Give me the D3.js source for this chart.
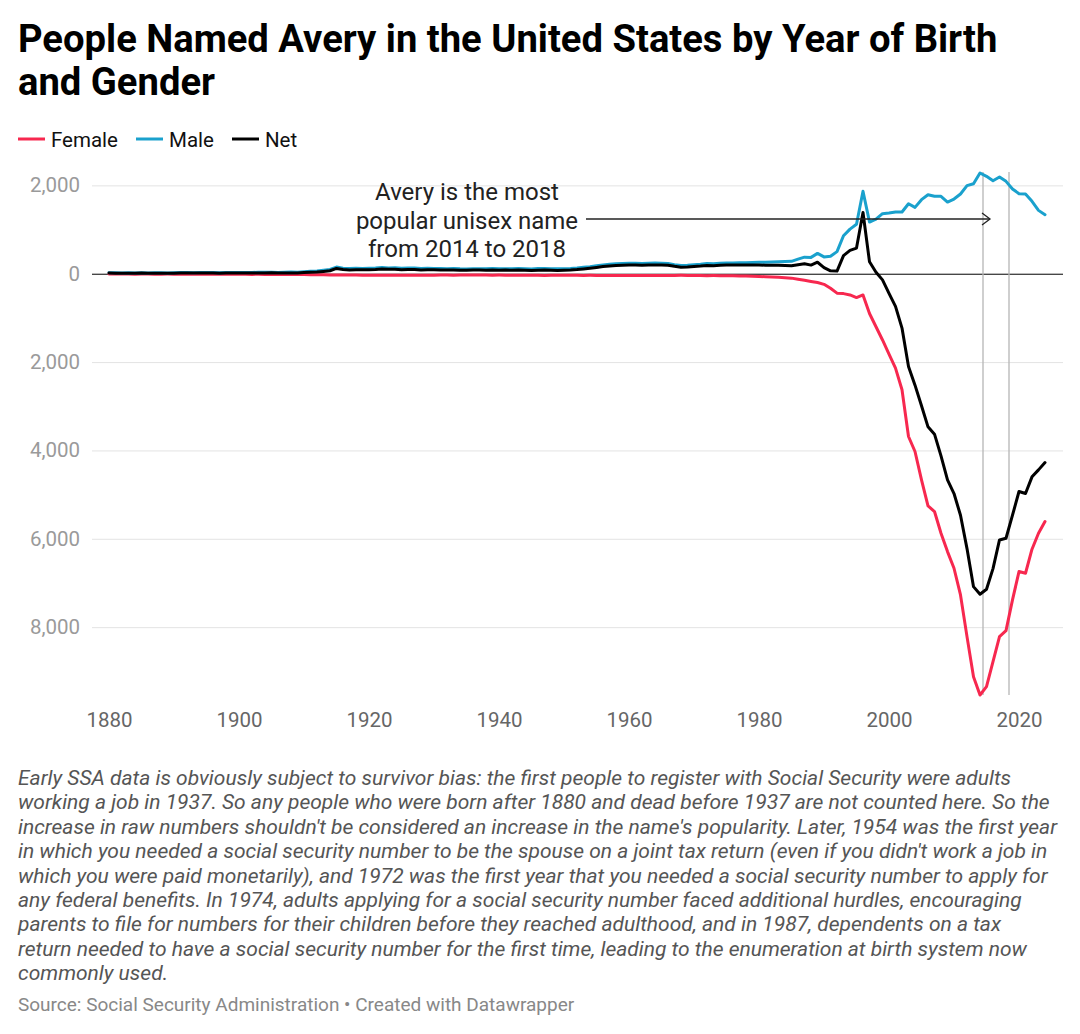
<!DOCTYPE html>
<html>
<head>
<meta charset="utf-8">
<script src="https://cdn.jsdelivr.net/npm/d3@7"></script>
<style>
  body { margin: 0; background: #fff; font-family: Roboto, "Noto Sans", sans-serif; }
  svg text { font-family: Roboto, "Noto Sans", sans-serif; }
</style>
</head>
<body>
<div id="chart"></div>
<script>

var svgWidth = 1080;
var svgHeight = 1034;

// Years 1880..2024
var startYear = 1880;
var endYear = 2024;

// Male births (count)
var maleValues = [
  22, 20, 18, 21, 19, 23, 17, 20, 24, 19,
  22, 25, 28, 24, 26, 27, 25, 23, 29, 26,
  30, 27, 29, 33, 31, 35, 30, 34, 37, 36,
  45, 55, 62, 78, 95, 150, 125, 118, 122, 120,
  125, 128, 140, 132, 136, 122, 128, 130, 118, 124,
  121, 116, 112, 118, 110, 108, 112, 114, 110, 118,
  112, 115, 110, 118, 112, 108, 116, 120, 114, 110,
  115, 120, 130, 145, 160, 180, 200, 215, 225, 230,
  235, 238, 232, 236, 240, 238, 230, 205, 185, 190,
  205, 215, 230, 225, 238, 242, 245, 248, 250, 255,
  258, 262, 268, 272, 278, 280, 330, 375, 370, 460,
  380, 395, 500, 860, 1010, 1120, 1865, 1170, 1235, 1360,
  1375, 1397, 1397, 1585, 1502, 1676, 1789, 1752, 1752, 1623,
  1691, 1804, 1993, 2038, 2280, 2205, 2106, 2189, 2091, 1918,
  1812, 1804, 1638, 1434, 1336
];

// Female births, drawn below zero
var femaleValues = [
  -8, -7, -9, -8, -10, -9, -8, -10, -11, -9,
  -10, -11, -12, -10, -12, -13, -11, -12, -13, -12,
  -14, -13, -15, -14, -16, -15, -16, -17, -18, -17,
  -20, -22, -24, -26, -28, -30, -29, -31, -30, -32,
  -33, -32, -34, -33, -35, -34, -33, -35, -34, -33,
  -32, -31, -30, -32, -31, -30, -29, -31, -30, -32,
  -31, -32, -33, -34, -33, -35, -36, -38, -37, -36,
  -35, -36, -37, -38, -37, -38, -39, -40, -39, -38,
  -38, -39, -40, -39, -41, -40, -39, -38, -37, -38,
  -40, -42, -44, -43, -45, -47, -48, -50, -52, -55,
  -62, -68, -75, -82, -90, -100, -125, -150, -175, -200,
  -240, -330, -440, -450, -480, -540, -480, -900, -1200, -1500,
  -1820, -2137, -2627, -3685, -4024, -4666, -5255, -5383, -5874, -6290,
  -6667, -7271, -8215, -9121, -9536, -9347, -8781, -8215, -8079, -7384,
  -6742, -6780, -6236, -5874, -5610
];

// Net (male minus female)
var netValues = [
  14, 13, 9, 13, 9, 14, 9, 10, 13, 10,
  12, 14, 16, 14, 14, 14, 14, 11, 16, 14,
  16, 14, 14, 19, 15, 20, 14, 17, 19, 19,
  25, 33, 38, 52, 67, 120, 96, 87, 92, 88,
  92, 96, 106, 99, 101, 88, 95, 95, 84, 91,
  89, 85, 82, 86, 79, 78, 83, 83, 80, 86,
  81, 83, 77, 84, 79, 73, 80, 82, 77, 74,
  80, 84, 93, 107, 123, 142, 161, 175, 186, 192,
  197, 199, 192, 197, 199, 198, 191, 167, 148, 152,
  165, 173, 186, 182, 193, 195, 197, 198, 198, 200,
  196, 194, 193, 190, 188, 180, 205, 225, 195, 260,
  140, 65, 60, 410, 530, 580, 1385, 270, 35, -140,
  -445, -740, -1230, -2100, -2522, -2990, -3466, -3631, -4122, -4667,
  -4976, -5467, -6222, -7083, -7256, -7142, -6675, -6026, -5988, -5466,
  -4930, -4976, -4598, -4440, -4274
];

var years = d3.range(startYear, endYear + 1);

var xTicks = [1880, 1900, 1920, 1940, 1960, 1980, 2000, 2020];
var yTicks = [2000, 0, -2000, -4000, -6000, -8000];
var markerYears = [2014, 2018];

var seriesNames = ["Female", "Male", "Net"];
var seriesColors = ["#f7284f", "#1aa1cd", "#000000"];

var titleLines = [
  "People Named Avery in the United States by Year of Birth",
  "and Gender"
];

var annotationLines = [
  "Avery is the most",
  "popular unisex name",
  "from 2014 to 2018"
];

var noteLines = [
  "Early SSA data is obviously subject to survivor bias: the first people to register with Social Security were adults",
  "working a job in 1937. So any people who were born after 1880 and dead before 1937 are not counted here. So the",
  "increase in raw numbers shouldn't be considered an increase in the name's popularity. Later, 1954 was the first year",
  "in which you needed a social security number to be the spouse on a joint tax return (even if you didn't work a job in",
  "which you were paid monetarily), and 1972 was the first year that you needed a social security number to apply for",
  "any federal benefits. In 1974, adults applying for a social security number faced additional hurdles, encouraging",
  "parents to file for numbers for their children before they reached adulthood, and in 1987, dependents on a tax",
  "return needed to have a social security number for the first time, leading to the enumeration at birth system now",
  "commonly used."
];

var sourceText = "Source: Social Security Administration \u2022 Created with Datawrapper";

// plot area
var plot = { left: 92, right: 1063, top: 173, bottom: 695 };

var svg = d3.select("#chart")
  .append("svg")
  .attr("width", svgWidth)
  .attr("height", svgHeight);

// title
svg.append("g").selectAll("text")
  .data(titleLines)
  .enter()
  .append("text")
  .attr("x", 18)
  .attr("y", (d, i) => 52 + i * 43)
  .attr("font-size", 38.2)
  .attr("font-weight", 700)
  .attr("fill", "#000")
  .text(d => d);

// legend
var legendX = [18, 136, 232];
var legend = svg.append("g");
seriesNames.forEach(function(name, i) {
  legend.append("line")
    .attr("x1", legendX[i])
    .attr("x2", legendX[i] + 27)
    .attr("y1", 139)
    .attr("y2", 139)
    .attr("stroke", seriesColors[i])
    .attr("stroke-width", 3);
  legend.append("text")
    .attr("x", legendX[i] + 33)
    .attr("y", 146.5)
    .attr("font-size", 20.5)
    .attr("fill", "#111")
    .text(name);
});

// scales
var xScale = d3.scaleLinear()
  .domain([startYear, endYear])
  .range([109, 109 + (endYear - startYear) * 6.5]);

var allValues = maleValues.concat(femaleValues, netValues);
var yScale = d3.scaleLinear()
  .domain(d3.extent(allValues))
  .range([plot.bottom, plot.top]);

// y axis with gridlines
var yAxis = svg.append("g")
  .attr("transform", `translate(${plot.left}, 0)`)
  .call(d3.axisLeft(yScale)
    .tickValues(yTicks)
    .tickSizeInner(-(plot.right - plot.left))
    .tickSizeOuter(0)
    .tickPadding(12)
    .tickFormat(d => d3.format(",")(Math.abs(d))));

yAxis.select(".domain").remove();
yAxis.selectAll(".tick line")
  .attr("stroke", d => d === 0 ? "#000" : "#e3e3e3")
  .attr("stroke-width", 1);
yAxis.selectAll(".tick text")
  .attr("font-size", 20.5)
  .attr("fill", "#9a9a9a");

// x axis
var xAxis = svg.append("g")
  .attr("transform", `translate(0, ${plot.bottom + 13})`)
  .call(d3.axisBottom(xScale)
    .tickValues(xTicks)
    .tickSize(0)
    .tickPadding(4)
    .tickFormat(d3.format("d")));

xAxis.select(".domain").remove();
xAxis.selectAll(".tick text")
  .attr("font-size", 20.5)
  .attr("fill", "#666");

// marker lines for 2014 and 2018
svg.append("g").selectAll("line")
  .data(markerYears)
  .enter()
  .append("line")
  .attr("x1", d => xScale(d) + 3)
  .attr("x2", d => xScale(d) + 3)
  .attr("y1", plot.top - 1)
  .attr("y2", plot.bottom)
  .attr("stroke", "#b5b5b5")
  .attr("stroke-width", 1.3);

// lines
var lineGen = function(values) {
  return d3.line()
    .x((d, i) => xScale(years[i]))
    .y(d => yScale(d))(values);
};

var seriesData = [femaleValues, maleValues, netValues];
svg.append("g").selectAll("path")
  .data(seriesData)
  .enter()
  .append("path")
  .attr("d", d => lineGen(d))
  .attr("fill", "none")
  .attr("stroke", (d, i) => seriesColors[i])
  .attr("stroke-width", 3)
  .attr("stroke-linejoin", "round")
  .attr("stroke-linecap", "round");

// annotation
var annoGroup = svg.append("g");
annoGroup.selectAll("text")
  .data(annotationLines)
  .enter()
  .append("text")
  .attr("x", 467)
  .attr("y", (d, i) => 200 + i * 28.5)
  .attr("text-anchor", "middle")
  .attr("font-size", 24)
  .attr("fill", "#222")
  .text(d => d);

var arrowY = 219;
var arrowEnd = xScale(2014) + 10;
annoGroup.append("line")
  .attr("x1", 586)
  .attr("x2", arrowEnd)
  .attr("y1", arrowY)
  .attr("y2", arrowY)
  .attr("stroke", "#222")
  .attr("stroke-width", 1.3);
annoGroup.append("path")
  .attr("d", `M${arrowEnd - 8},${arrowY - 6} L${arrowEnd},${arrowY} L${arrowEnd - 8},${arrowY + 6}`)
  .attr("fill", "none")
  .attr("stroke", "#222")
  .attr("stroke-width", 1.3);

// notes
svg.append("g").selectAll("text")
  .data(noteLines)
  .enter()
  .append("text")
  .attr("x", 18)
  .attr("y", (d, i) => 785 + i * 24.4)
  .attr("font-size", 21)
  .attr("font-style", "italic")
  .attr("fill", "#555")
  .text(d => d);

// source
svg.append("text")
  .attr("x", 18)
  .attr("y", 1011)
  .attr("font-size", 19)
  .attr("fill", "#888")
  .text(sourceText);

</script>
</body>
</html>
